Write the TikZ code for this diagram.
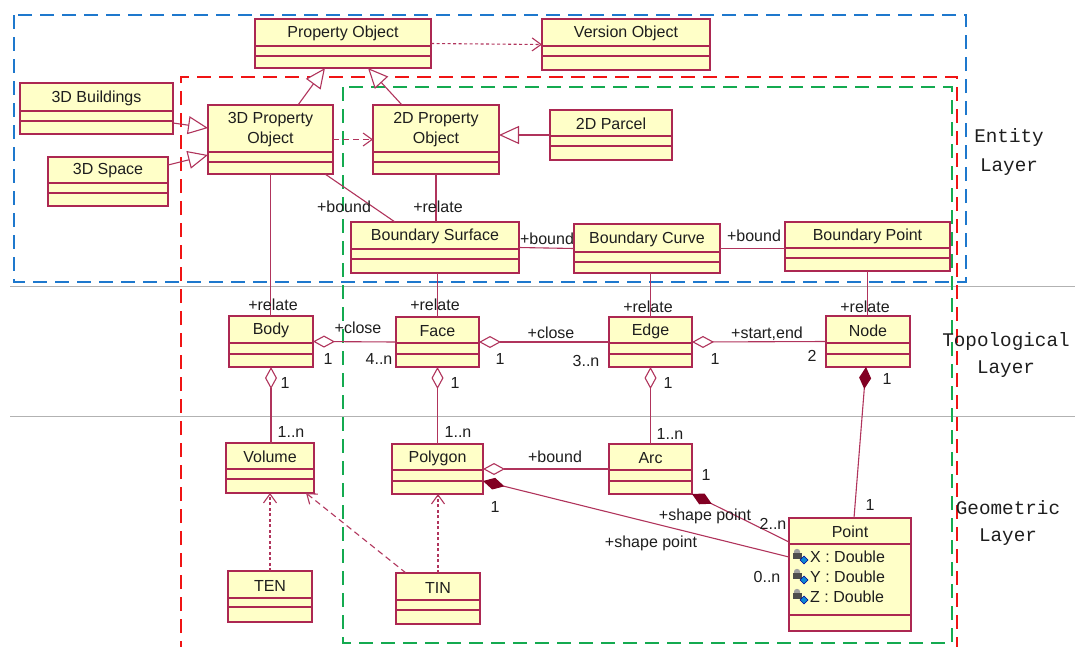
\documentclass[tikz,border=0pt]{standalone}
\usepackage{fontspec}
\setmainfont{Liberation Sans}
\newfontfamily\layerfont{Liberation Mono}
\usetikzlibrary{arrows.meta,calc}
\definecolor{boxfill}{RGB}{255,255,200}
\definecolor{boxline}{RGB}{172,40,82}
\definecolor{connc}{RGB}{176,52,92}
\definecolor{compo}{RGB}{130,0,35}
\definecolor{blueD}{RGB}{30,120,205}
\definecolor{redD}{RGB}{240,20,20}
\definecolor{greenD}{RGB}{20,170,80}
\definecolor{txt}{RGB}{30,30,30}
\newcommand\umlbox[8]{%
  \node[cls, minimum width={#4-#2}, minimum height={#5-#3}] (#1) at ({(#2+#4)/2},{(#3+#5)/2}) {};
  \draw[sepline] (#2,#6) -- (#4,#6) (#2,#7) -- (#4,#7);
  \node[ttl] (#1-t) at ({(#2+#4)/2},{(#3+#6)/2+1}) {#8};
}
\begin{document}
\begin{tikzpicture}[x=1pt,y=-1pt,
  cls/.style={draw=boxline, fill=boxfill, line width=1.1pt, inner sep=0pt, outer sep=0pt, rectangle},
  sepline/.style={draw=boxline, line width=1.1pt},
  ttl/.style={font=\fontsize{16}{20}\selectfont, text=txt, inner sep=0pt, align=center},
  lbl/.style={font=\fontsize{16}{18}\selectfont, text=txt, inner sep=0pt},
  layertxt/.style={font=\layerfont\fontsize{19.3}{22}\selectfont, text=txt, inner sep=0pt},
  cn/.style={draw=connc, line width=1.1pt},
  gen/.style={cn, -{Triangle[open, length=20pt, width=18pt, fill=white]}},
  dotdep/.style={cn, dash pattern=on 3pt off 2.5pt, -{Straight Barb[length=9pt, width=13pt]}},
  dashdep/.style={cn, dash pattern=on 6pt off 4pt, -{Straight Barb[length=9pt, width=13pt]}},
  agg/.style={cn, -{Diamond[open, length=22pt, width=12pt, fill=white]}},
  comp/.style={cn, -{Diamond[length=22pt, width=12pt, fill=compo, color=compo]}},
  layerbox/.style={line width=2pt, dash pattern=on 14pt off 8pt},
]
\useasboundingbox (0,0) rectangle (1075,646);
% layer separators
\draw[gray!60, line width=1pt] (10,286) -- (1075,286);
\draw[gray!60, line width=1pt] (10,416) -- (1075,416);
% dashed frames
\draw[layerbox, blueD] (14,15) rectangle (966,282);
\draw[layerbox, redD] (181,655) -- (181,77) -- (957,77) -- (957,655);
\draw[layerbox, greenD] (343,87) rectangle (952,643);
% classes
\umlbox{po}{255}{19}{431}{68}{46}{56}{Property Object}
\umlbox{vo}{542}{19}{710}{70}{46}{56}{Version Object}
\umlbox{tdb}{20}{83}{173}{134}{111}{121}{3D Buildings}
\umlbox{tds}{48}{157}{168}{206}{183}{193}{3D Space}
\umlbox{tpo}{208}{105}{333}{174}{152}{162}{3D Property\\Object}
\umlbox{dpo}{373}{105}{499}{174}{152}{162}{2D Property\\Object}
\umlbox{par}{550}{110}{672}{160}{136}{146}{2D Parcel}
\umlbox{bs}{351}{222}{519}{273}{249}{259}{Boundary Surface}
\umlbox{bc}{574}{224}{720}{273}{252}{262}{Boundary Curve}
\umlbox{bp}{785}{222}{950}{271}{248}{258}{Boundary Point}
\umlbox{body}{229}{316}{313}{367}{343}{354}{Body}
\umlbox{face}{396}{317}{479}{367}{343}{354}{Face}
\umlbox{edge}{609}{317}{692}{367}{343}{354}{Edge}
\umlbox{nd}{826}{316}{910}{367}{343}{354}{Node}
\umlbox{vol}{226}{443}{314}{493}{469}{479}{Volume}
\umlbox{poly}{392}{444}{483}{494}{470}{481}{Polygon}
\umlbox{arc}{609}{444}{692}{494}{470}{481}{Arc}
\umlbox{ten}{228}{571}{312}{622}{598}{607}{TEN}
\umlbox{tin}{396}{573}{480}{624}{600}{610}{TIN}
\umlbox{pt}{789}{518}{911}{631}{544}{615}{Point}
% Point attributes
\foreach \yy/\nm in {557/X,577/Y,597/Z}{
  \fill[gray!75] (797,\yy-5) circle (3.2);
  \fill[gray!60!black] (792.5,\yy-4) rectangle (801.5,\yy+2);
  \filldraw[fill=cyan!70!blue, draw=blue!60!black, line width=0.5pt] (804,\yy-1) -- (808,\yy+3) -- (804,\yy+7) -- (800,\yy+3) -- cycle;
  \node[lbl, anchor=west] (attr\nm) at (810,\yy) {\nm\ : Double};
}
% connectors
\draw[dotdep] (po.east) -- (vo.west);
\draw[gen] ([xshift=27.5pt]tpo.north) -- ([xshift=-18pt]po.south);
\draw[gen] ([xshift=-34pt]dpo.north) -- ([xshift=25pt]po.south);
\draw[gen] ([yshift=-14.5pt]tdb.east) -- ([yshift=11.5pt]tpo.west);
\draw[gen] ([yshift=16.5pt]tds.east) -- ([yshift=-15.5pt]tpo.west);
\draw[gen] (par.west) -- (par.west -| dpo.east);
\draw[dashdep] (tpo.east) -- (dpo.west);
\draw[cn] ([xshift=54.5pt]tpo.south) -- ([xshift=-40pt]bs.north);
\draw[cn] (dpo.south) -- (dpo.south |- bs.north);
\draw[cn] (bs.east) -- (bc.west);
\draw[cn] (bc.east) -- (bc.east -| bp.west);
\draw[cn] (tpo.south) -- (tpo.south |- body.north);
\draw[cn] (face.north |- bs.south) -- (face.north);
\draw[cn] (edge.north |- bc.south) -- (edge.north);
\draw[cn] (bp.south) -- (bp.south |- nd.north);
\draw[agg] (face.west) -- (body.east);
\draw[agg] (edge.west) -- (face.east);
\draw[agg] (nd.west) -- (edge.east);
\draw[agg] (vol.north) -- (vol.north -| body.south) -- (body.south);
\draw[agg] (poly.north) -- (face.south);
\draw[agg] (arc.north) -- (edge.south);
\draw[comp] ([xshift=4pt]pt.north) -- ([xshift=-2pt]nd.south);
\draw[agg] (arc.west) -- (poly.east);
\draw[comp] ([yshift=17.5pt]pt.west) -- ([yshift=-12pt]poly.east);
\draw[comp] ([yshift=32.5pt]pt.west) -- (arc.south east);
\draw[dotdep] (ten.north) -- (ten.north |- vol.south);
\draw[dashdep] ([xshift=-32pt]tin.north) -- ([xshift=36pt]vol.south);
\draw[dotdep] (tin.north) -- (tin.north |- poly.south);
% labels
\node[lbl] (l1) at (344,207) {+bound};
\node[lbl] (l2) at (438,207) {+relate};
\node[lbl] (l3) at (547,239) {+bound};
\node[lbl] (l4) at (754,236) {+bound};
\node[lbl] (l5) at (273,305) {+relate};
\node[lbl] (l6) at (435,305) {+relate};
\node[lbl] (l7) at (648,307) {+relate};
\node[lbl] (l8) at (865,307) {+relate};
\node[lbl] (l9) at (358,328) {+close};
\node[lbl] (l10) at (328,359) {1};
\node[lbl] (l11) at (379,359) {4..n};
\node[lbl] (l12) at (551,333) {+close};
\node[lbl] (l13) at (500,359) {1};
\node[lbl] (l14) at (586,361) {3..n};
\node[lbl] (l15) at (767,334) {+start,end};
\node[lbl] (l16) at (715,359) {1};
\node[lbl] (l17) at (812,356) {2};
\node[lbl] (l18) at (285,383) {1};
\node[lbl] (l19) at (455,383) {1};
\node[lbl] (l20) at (668,383) {1};
\node[lbl] (l21) at (887,379) {1};
\node[lbl] (l22) at (291,432) {1..n};
\node[lbl] (l23) at (458,432) {1..n};
\node[lbl] (l24) at (670,434) {1..n};
\node[lbl] (l25) at (555,457) {+bound};
\node[lbl] (l26) at (706,475) {1};
\node[lbl] (l27) at (495,507) {1};
\node[lbl] (l28) at (705,516) {+shape point};
\node[lbl] (l29) at (773,524) {2..n};
\node[lbl] (l30) at (651,543) {+shape point};
\node[lbl] (l31) at (767,577) {0..n};
\node[lbl] (l32) at (870,505) {1};
% layer names
\node[layertxt] (e1) at (1009,138) {Entity};
\node[layertxt] (e2) at (1009,167) {Layer};
\node[layertxt] (t1) at (1006,342) {Topological};
\node[layertxt] (t2) at (1006,369) {Layer};
\node[layertxt] (g1) at (1008,508) {Geometric};
\node[layertxt] (g2) at (1008,537) {Layer};
\end{tikzpicture}
\end{document}
